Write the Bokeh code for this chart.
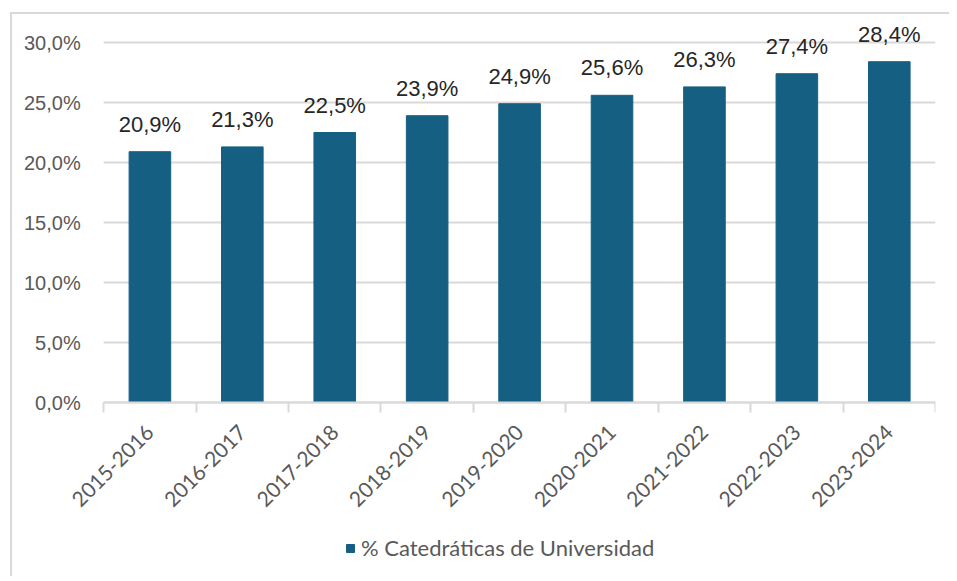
from bokeh.plotting import figure
from bokeh.models import FixedTicker, Legend, LegendItem, ColumnDataSource, Range1d
from bokeh.core.properties import value
from bokeh.embed import file_html
from bokeh.resources import INLINE

cursos = ["2015-2016", "2016-2017", "2017-2018", "2018-2019", "2019-2020",
          "2020-2021", "2021-2022", "2022-2023", "2023-2024"]
porcentaje = [20.9, 21.3, 22.5, 23.9, 24.9, 25.6, 26.3, 27.4, 28.4]
y_ticks = [0, 5, 10, 15, 20, 25, 30]
y_tick_labels = ["0,0%", "5,0%", "10,0%", "15,0%", "20,0%", "25,0%", "30,0%"]
serie = "% Catedráticas de Universidad"

BAR = "#156082"
GRID = "#d9d9d9"

n = len(cursos)
xs = [i + 0.5 for i in range(n)]
labels = [f"{v:.1f}%".replace(".", ",") for v in porcentaje]
src = ColumnDataSource(dict(x=xs, top=porcentaje, label=labels))
grid_src = ColumnDataSource(dict(x0=[0] * len(y_ticks), x1=[n] * len(y_ticks),
                                 y=y_ticks))

p = figure(frame_width=915, frame_height=552, output_backend="svg", toolbar_location=None,
           x_range=Range1d(-0.9, n), y_range=Range1d(-14.5, 31.5))
p.min_border_left = 8
p.min_border_right = 14
p.min_border_top = 10
p.min_border_bottom = 0
p.outline_line_color = None
p.background_fill_color = "white"
p.border_fill_color = "white"
p.margin = (12, 0, 0, 10)
p.styles = {"border-left": "2px solid #d9d9d9", "border-top": "2px solid #d9d9d9"}

# horizontal gridlines limited to the category span
p.segment(x0="x0", x1="x1", y0="y", y1="y", source=grid_src,
          line_color=GRID, line_width=2, level="underlay")
p.xgrid.visible = False
p.ygrid.visible = False

r = p.vbar(x="x", top="top", width=0.45, source=src, fill_color=BAR, line_color=BAR)
p.text(x="x", y="top", text="label", source=src, text_align="center",
       text_baseline="bottom", y_offset=-15, text_font=value("Liberation Sans"),
       text_font_size="22px", text_color="#262626")

# Y axis pinned to x = 0
p.yaxis.fixed_location = 0
p.yaxis.ticker = FixedTicker(ticks=y_ticks)
p.yaxis.major_label_overrides = {t: l for t, l in zip(y_ticks, y_tick_labels)}
p.yaxis.axis_line_color = None
p.yaxis.major_tick_line_color = None
p.yaxis.minor_tick_line_color = None
p.yaxis.major_label_standoff = 17
p.yaxis.major_label_text_font = "Liberation Sans"
p.yaxis.major_label_text_font_size = "20px"
p.yaxis.major_label_text_color = "#595959"

# X axis pinned to y = 0
p.xaxis.fixed_location = 0
p.xaxis.bounds = (0, n)
p.xaxis.ticker = FixedTicker(ticks=xs, minor_ticks=list(range(n + 1)))
p.xaxis.major_label_overrides = {x: c for x, c in zip(xs, cursos)}
p.xaxis.major_label_orientation = 0.785398
p.xaxis.axis_line_color = GRID
p.xaxis.axis_line_width = 2
p.xaxis.major_tick_line_color = None
p.xaxis.minor_tick_line_color = GRID
p.xaxis.minor_tick_line_width = 2
p.xaxis.minor_tick_in = 0
p.xaxis.minor_tick_out = 10
p.xaxis.major_label_standoff = 16
p.xaxis.major_label_text_font = "Lato"
p.xaxis.major_label_text_font_size = "21px"
p.xaxis.major_label_text_color = "#595959"

legend = Legend(items=[LegendItem(label=serie, renderers=[r])], location=(325, 15),
                orientation="horizontal", border_line_color=None,
                background_fill_alpha=0, glyph_width=10, glyph_height=10,
                label_text_font="Lato", label_text_font_size="22px",
                label_text_color="#595959", margin=0, padding=0, label_standoff=6)
p.add_layout(legend, "center")

open("out.html", "w").write(file_html(p, INLINE))
